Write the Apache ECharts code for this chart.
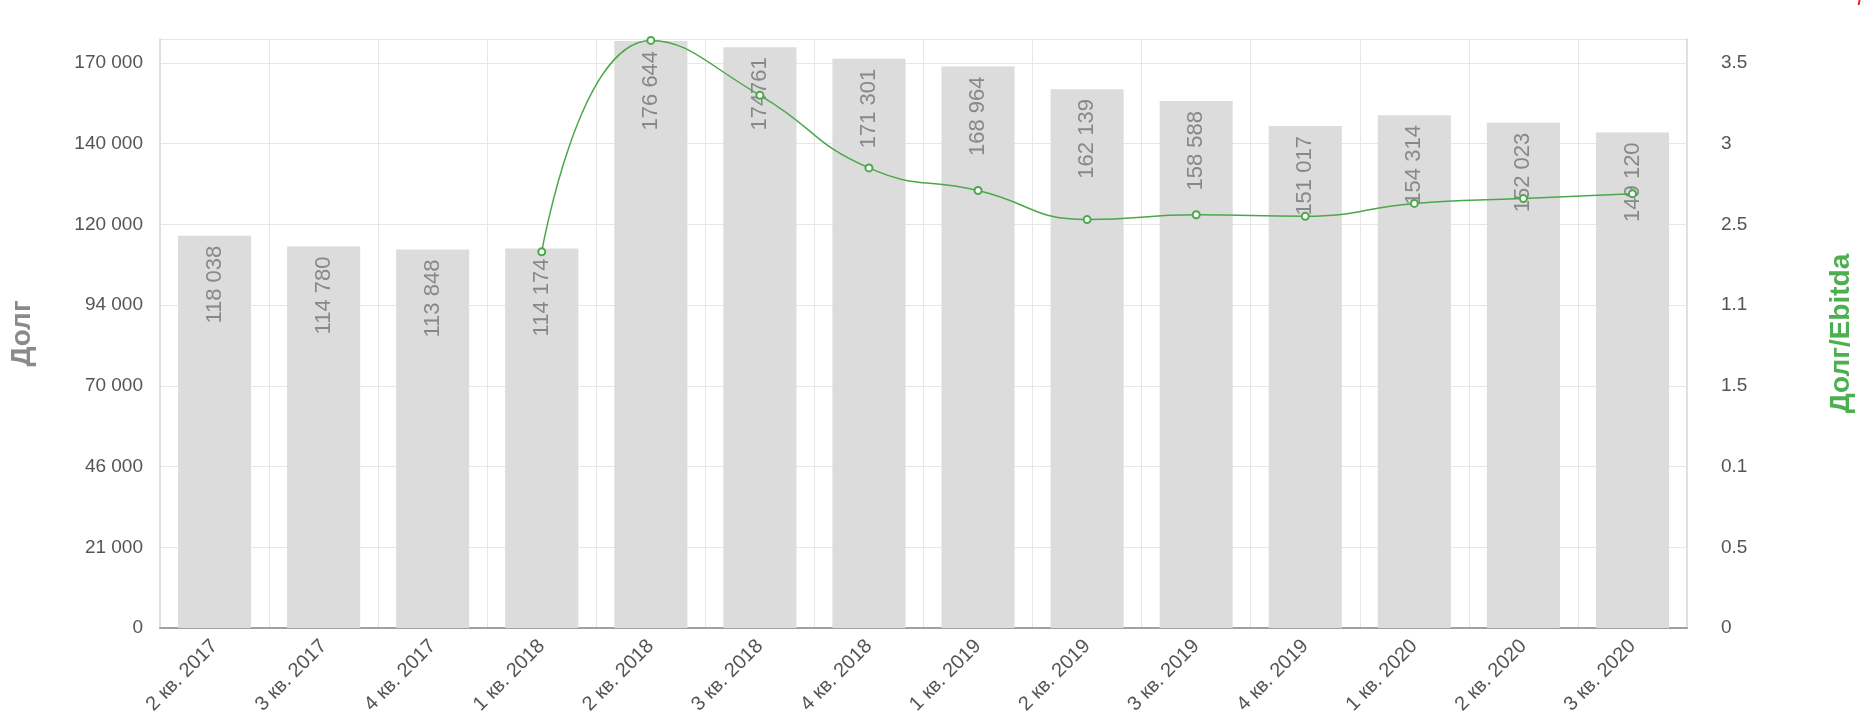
<!DOCTYPE html>
<html>
<head>
<meta charset="utf-8">
<script src="https://cdn.jsdelivr.net/npm/echarts@6/dist/echarts.min.js"></script>
<style>
html,body{margin:0;padding:0;background:#fff;}
#chart{width:1864px;height:728px;}
</style>
</head>
<body>
<div id="chart"></div>
<script>
var categories = ['2 кв. 2017','3 кв. 2017','4 кв. 2017','1 кв. 2018','2 кв. 2018','3 кв. 2018','4 кв. 2018','1 кв. 2019','2 кв. 2019','3 кв. 2019','4 кв. 2019','1 кв. 2020','2 кв. 2020','3 кв. 2020'];
var debtValues = [118038,114780,113848,114174,176644,174761,171301,168964,162139,158588,151017,154314,152023,149120];
var debtLabels = ['118 038','114 780','113 848','114 174','176 644','174761','171 301','168 964','162 139','158 588','151 017','154 314','152 023','149 120'];
var ratioValues = [null,null,null,2.33,3.64,3.30,2.85,2.71,2.53,2.56,2.55,2.63,2.66,2.69];
var leftTickLabels = ['0','21 000','46 000','70 000','94 000','120 000','140 000','170 000'];
var rightTickLabels = ['0','0.5','0.1','1.5','1.1','2.5','3','3.5'];

var leftTop = 170000, rightTop = 3.5, nInt = leftTickLabels.length - 1;
var leftInterval = leftTop / nInt, rightInterval = rightTop / nInt;
var extra = 589 / 565;
function mapLabel(labels, interval){
  return function(v){
    var k = Math.round(v / interval);
    if (Math.abs(v - k*interval) > interval*0.01 || k < 0 || k >= labels.length) return '';
    return labels[k];
  };
}
var font = 'Liberation Sans, Arial, sans-serif';
var chart = echarts.init(document.getElementById('chart'));
chart.setOption({
  animation: false,
  backgroundColor: '#fff',
  grid: {left: 159, right: 177, top: 39, bottom: 100, containLabel: false},
  graphic: [{type:'text', right: 2, top: -7, style:{text:'/', fill:'#e0201a', font:'bold 16px ' + font}}],
  xAxis: {
    type: 'category', data: categories,
    axisLine: {show: true, lineStyle: {color: '#a0a0a0', width: 2}},
    axisTick: {show: false},
    splitLine: {show: true, lineStyle: {color: '#e6e6e6', width: 1}},
    axisLabel: {rotate: 45, color: '#555', fontSize: 20, fontFamily: font, margin: 15, interval: 0}
  },
  yAxis: [{
    type: 'value', min: 0, max: leftTop*extra, interval: leftInterval,
    name: 'Долг', nameLocation: 'middle', nameGap: 124, nameRotate: 90,
    nameTextStyle: {color: '#8a8a8a', fontSize: 28, fontWeight: 'bold', fontFamily: font},
    axisLine: {show: true, lineStyle: {color: '#e0e0e0', width: 2}},
    axisTick: {show: false},
    splitLine: {show: true, lineStyle: {color: '#e6e6e6', width: 1}},
    axisLabel: {color: '#555', fontSize: 19, fontFamily: font, margin: 17, formatter: mapLabel(leftTickLabels, leftInterval), showMaxLabel: true}
  },{
    type: 'value', min: 0, max: rightTop*extra, interval: rightInterval,
    name: 'Долг/Ebitda', nameLocation: 'middle', nameGap: 140, nameRotate: 90,
    nameTextStyle: {color: '#4caf50', fontSize: 28, fontWeight: 'bold', fontFamily: font},
    axisLine: {show: true, lineStyle: {color: '#e0e0e0', width: 2}},
    axisTick: {show: false},
    splitLine: {show: false},
    axisLabel: {color: '#555', fontSize: 19, fontFamily: font, margin: 34, formatter: mapLabel(rightTickLabels, rightInterval)}
  }],
  series: [{
    type: 'bar', data: debtValues, yAxisIndex: 0, barWidth: '67%',
    itemStyle: {color: '#dcdcdc'},
    label: {show: true, position: 'insideTop', rotate: 90, align: 'right', verticalAlign: 'middle', distance: 10,
      color: '#888', fontSize: 22, fontFamily: font,
      formatter: function(p){ return debtLabels[p.dataIndex]; }}
  },{
    type: 'line', data: ratioValues, yAxisIndex: 1, smooth: 0.5, connectNulls: false,
    symbol: 'emptyCircle', symbolSize: 7,
    lineStyle: {color: '#4aa84a', width: 1.5},
    itemStyle: {color: '#4aa84a', borderWidth: 1.5}
  }]
});
</script>
</body>
</html>
